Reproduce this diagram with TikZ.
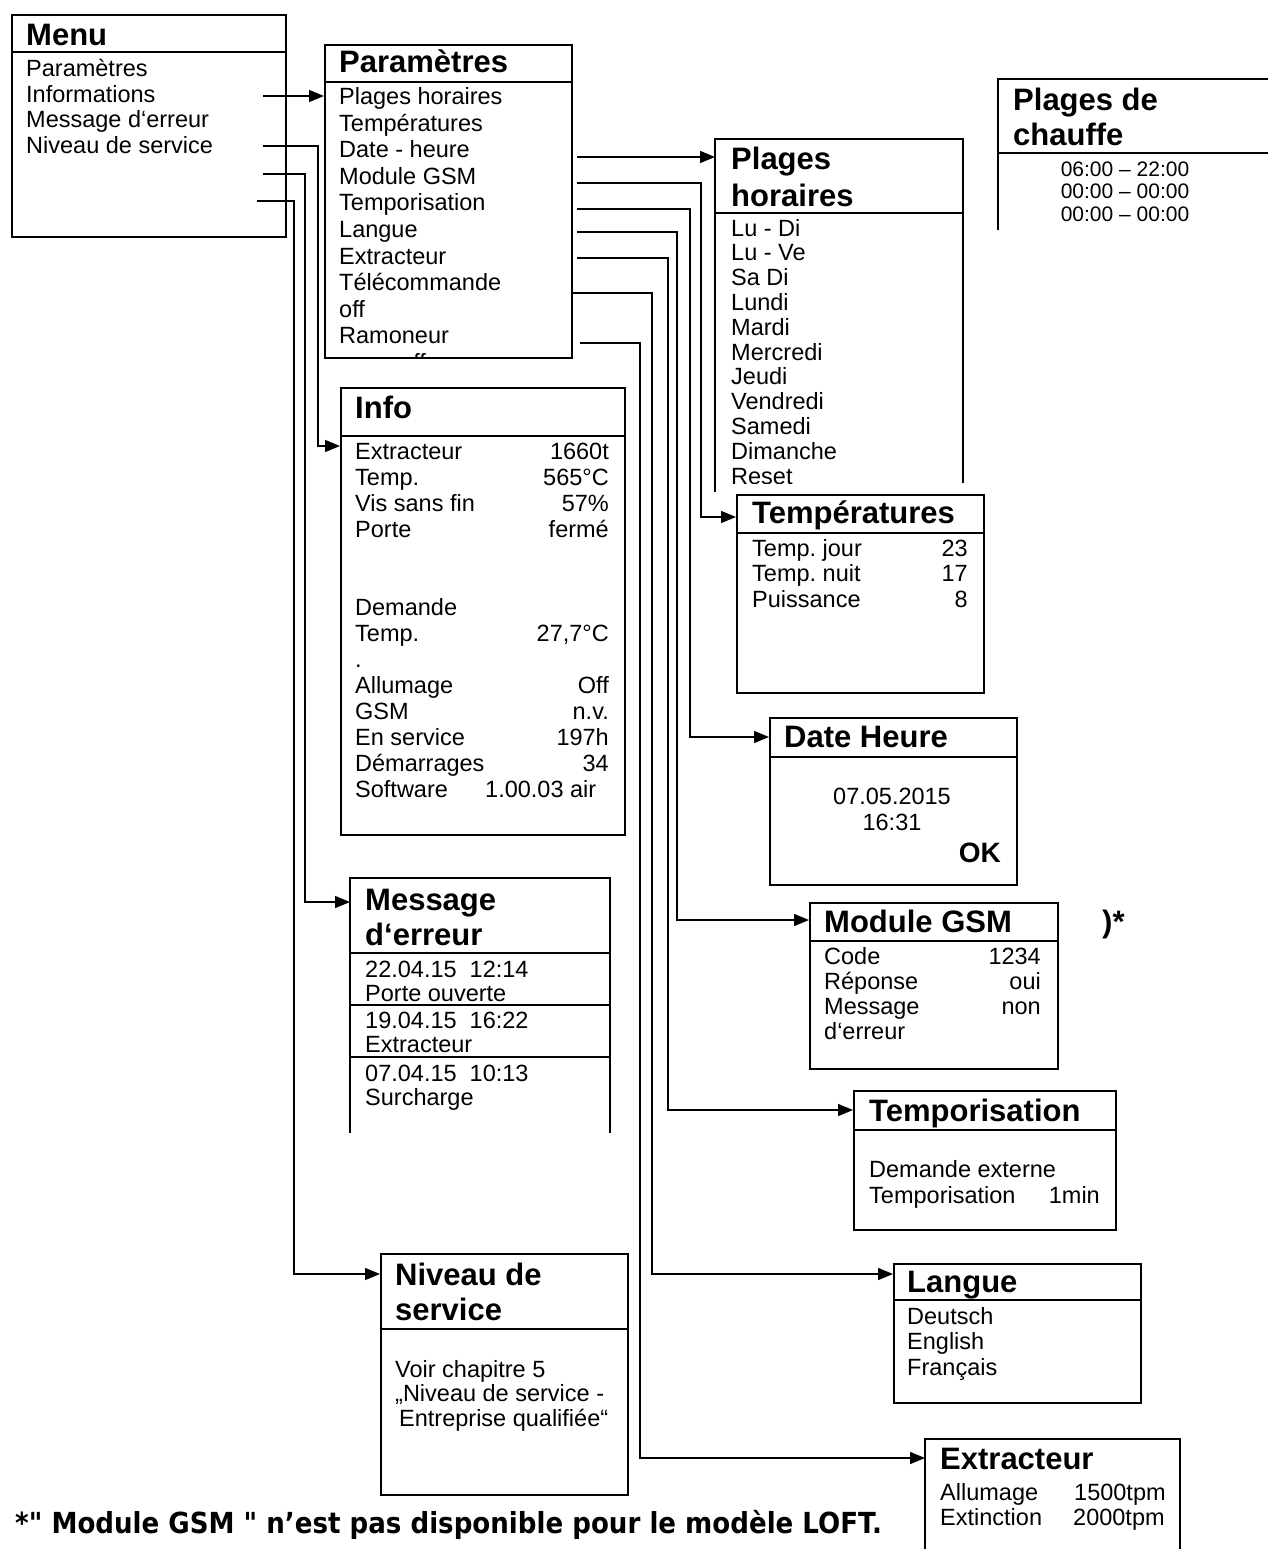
\documentclass[tikz,border=0pt]{standalone}
\usepackage{fontspec}
\usepackage{graphicx}
\setmainfont{Liberation Sans}
\newfontfamily\footfont{DejaVu Sans}
\usetikzlibrary{arrows.meta}
\newcommand\bodyf{\fontsize{23.5}{26}\selectfont}
\newcommand\ttlf{\fontsize{31}{34}\selectfont\bfseries}
\newcommand\timef{\fontsize{21}{22}\selectfont}
\frenchspacing
\begin{document}
\begin{tikzpicture}[x=1pt,y=-1pt,
  frame/.style={draw, line width=2.4pt, inner sep=0pt, anchor=north west},
  ghost/.style={inner sep=0pt, anchor=north west},
  edge/.style={line width=2.4pt},
  sepline/.style={line width=2pt},
  conn/.style={line width=1.5pt, -{Triangle[length=15pt,width=12pt]}},
  txt/.style={inner sep=0pt, anchor=base west, font=\bodyf},
  val/.style={inner sep=0pt, anchor=base east, font=\bodyf},
  ctr/.style={inner sep=0pt, anchor=base, font=\bodyf},
  ttl/.style={inner sep=0pt, anchor=base west, font=\ttlf}]
\useasboundingbox (0,0) rectangle (1268,1549);
\frenchspacing

% ---------- boxes ----------
\node[frame, minimum width=274pt, minimum height=222pt] (menu) at (11,14) {};
\draw[sepline] (11,52) -- (285,52);
\node[frame, minimum width=247pt, minimum height=313pt] (param) at (324,44) {};
\draw[sepline] (324,82) -- (571,82);
\node[ghost, minimum width=248pt, minimum height=344pt] (plh) at (715,139) {};
\draw[edge] (715,492) -- (715,139) -- (963,139) -- (963,483);
\draw[sepline] (715,213) -- (963,213);
\node[ghost, minimum width=270pt, minimum height=151pt] (pdc) at (998,79) {};
\draw[edge] (998,230) -- (998,79) -- (1268,79);
\draw[sepline] (998,153) -- (1268,153);
\node[frame, minimum width=284pt, minimum height=447pt] (info) at (340,387) {};
\draw[sepline] (340,436) -- (624,436);
\node[frame, minimum width=247pt, minimum height=198pt] (temp) at (736,494) {};
\draw[sepline] (736,533) -- (983,533);
\node[frame, minimum width=247pt, minimum height=167pt] (date) at (769,717) {};
\draw[sepline] (769,757) -- (1016,757);
\node[ghost, minimum width=260pt, minimum height=255pt] (msg) at (350,878) {};
\draw[edge] (350,1133) -- (350,878) -- (610,878) -- (610,1133);
\draw[sepline] (350,953) -- (610,953);
\draw[sepline] (350,1005) -- (610,1005);
\draw[sepline] (350,1057) -- (610,1057);
\node[frame, minimum width=248pt, minimum height=166pt] (gsm) at (809,902) {};
\draw[sepline] (809,941) -- (1057,941);
\node[frame, minimum width=262pt, minimum height=139pt] (tempo) at (853,1090) {};
\draw[sepline] (853,1130) -- (1115,1130);
\node[frame, minimum width=247pt, minimum height=241pt] (niv) at (380,1253) {};
\draw[sepline] (380,1329) -- (627,1329);
\node[frame, minimum width=247pt, minimum height=139pt] (lang) at (893,1263) {};
\draw[sepline] (893,1300) -- (1140,1300);
\node[ghost, minimum width=255pt, minimum height=110pt] (extr) at (925,1439) {};
\draw[edge] (925,1549) -- (925,1439) -- (1180,1439) -- (1180,1549);

% ---------- connectors ----------
\coordinate (m1) at (263,96);
\coordinate (m2) at (263,146);  \coordinate (k2) at (318,446);
\coordinate (m3) at (263,174);  \coordinate (k3) at (305,902);
\coordinate (m4) at (257,201);  \coordinate (k4) at (294,1274);
\draw[conn] (m1) -- (param.west |- m1);
\draw[conn] (m2) -| (k2) -- (info.west |- k2);
\draw[conn] (m3) -| (k3) -- (msg.west |- k3);
\draw[conn] (m4) -| (k4) -- (niv.west |- k4);

\coordinate (p1) at (577,157);
\coordinate (p2) at (577,183);  \coordinate (q2) at (701,517);
\coordinate (p3) at (577,209);  \coordinate (q3) at (690,737);
\coordinate (p4) at (577,232);  \coordinate (q4) at (677,920);
\coordinate (p5) at (577,258);  \coordinate (q5) at (668,1110);
\coordinate (p6) at (572,293);  \coordinate (q6) at (652,1274);
\coordinate (p7) at (580,343);  \coordinate (q7) at (640,1458);
\draw[conn] (p1) -- (plh.west |- p1);
\draw[conn] (p2) -| (q2) -- (temp.west |- q2);
\draw[conn] (p3) -| (q3) -- (date.west |- q3);
\draw[conn] (p4) -| (q4) -- (gsm.west |- q4);
\draw[conn] (p5) -| (q5) -- (tempo.west |- q5);
\draw[conn] (p6) -| (q6) -- (lang.west |- q6);
\draw[conn] (p7) -| (q7) -- (extr.west |- q7);

% ---------- Menu ----------
\node[ttl] (tmenu) at (26,46) {Menu};
\foreach \t [count=\i from 0] in {Paramètres,Informations,Message d‘erreur,Niveau de service}
  \node[txt] (mi\i) at (26,77+25.4*\i) {\t};

% ---------- Paramètres ----------
\node[ttl] (tparam) at (339,73) {Paramètres};
\foreach \t [count=\i from 0] in {Plages horaires,Températures,Date - heure,Module GSM,Temporisation,Langue,Extracteur,Télécommande,off,Ramoneur}
  \node[txt] (pi\i) at (339,105+26.5*\i) {\t};
\begin{scope}
  \clip (324,44) rectangle (571,357);
  \node[txt] (pioff) at (400,370) {off};
\end{scope}

% ---------- Plages horaires ----------
\node[ttl] (tplh1) at (731,170) {Plages};
\node[ttl] (tplh2) at (731,206) {horaires};
\begin{scope}
  \clip (700,139) rectangle (963,483);
  \foreach \t [count=\i from 0] in {Lu - Di,Lu - Ve,Sa Di,Lundi,Mardi,Mercredi,Jeudi,Vendredi,Samedi,Dimanche,Reset}
    \node[txt] (hi\i) at (731,236+24.8*\i) {\t};
\end{scope}

% ---------- Plages de chauffe ----------
\node[ttl] (tpdc1) at (1013,111) {Plages de};
\node[ttl] (tpdc2) at (1013,146) {chauffe};
\node[ctr, font=\timef] (pc0) at (1125,177) {06:00 – 22:00};
\node[ctr, font=\timef] (pc1) at (1125,199) {00:00 – 00:00};
\node[ctr, font=\timef] (pc2) at (1125,221) {00:00 – 00:00};

% ---------- Info ----------
\node[ttl] (tinfo) at (355,418) {Info};
\foreach \t/\k in {Extracteur/0,Temp./1,Vis sans fin/2,Porte/3,Demande/6,Temp./7,./8,Allumage/9,GSM/10,En service/11,Démarrages/12,Software/13}
  \node[txt] (il\k) at (355,459+26*\k) {\t};
\foreach \t/\k in {1660t/0,565°C/1,57\%/2,fermé/3,{27,7°C}/7,Off/9,n.v./10,197h/11,34/12}
  \node[val] (iv\k) at (609,459+26*\k) {\t};
\node[txt] (iv13) at (485,797) {1.00.03 air};

% ---------- Températures ----------
\node[ttl] (ttemp) at (752,523) {Températures};
\foreach \t/\v [count=\i from 0] in {Temp. jour/23,Temp. nuit/17,Puissance/8}{
  \node[txt] (tl\i) at (752,556+25.5*\i) {\t};
  \node[val] (tv\i) at (968,556+25.5*\i) {\v};
}

% ---------- Date Heure ----------
\node[ttl] (tdate) at (784,747) {Date Heure};
\node[ctr] (d1) at (892,804) {07.05.2015};
\node[ctr] (d2) at (892,830) {16:31};
\node[inner sep=0pt, anchor=base east, font=\fontsize{28}{30}\selectfont\bfseries] (dok) at (1001,862) {OK};

% ---------- Message d'erreur ----------
\node[ttl] (tmsg1) at (365,910) {Message};
\node[ttl] (tmsg2) at (365,945) {d‘erreur};
\node[txt] (e1) at (365,977) {22.04.15\ \ 12:14};
\node[txt] (e2) at (365,1001) {Porte ouverte};
\node[txt] (e3) at (365,1028) {19.04.15\ \ 16:22};
\node[txt] (e4) at (365,1052) {Extracteur};
\node[txt] (e5) at (365,1081) {07.04.15\ \ 10:13};
\node[txt] (e6) at (365,1105) {Surcharge};

% ---------- Module GSM ----------
\node[ttl] (tgsm) at (824,932) {Module GSM};
\node[ttl] (star) at (1102,932) {)*};
\foreach \t [count=\i from 0] in {Code,Réponse,Message,d‘erreur}
  \node[txt] (gl\i) at (824,964+25.3*\i) {\t};
\foreach \t [count=\i from 0] in {1234,oui,non}
  \node[val] (gv\i) at (1041,964+25.3*\i) {\t};

% ---------- Temporisation ----------
\node[ttl] (ttempo) at (869,1121) {Temporisation};
\node[txt] (to1) at (869,1177) {Demande externe};
\node[txt] (to2) at (869,1203) {Temporisation};
\node[val] (to3) at (1100,1203) {1min};

% ---------- Langue ----------
\node[ttl] (tlang) at (907,1292) {Langue};
\foreach \t [count=\i from 0] in {Deutsch,English,Français}
  \node[txt] (la\i) at (907,1324+25.5*\i) {\t};

% ---------- Niveau de service ----------
\node[ttl] (tniv1) at (395,1285) {Niveau de};
\node[ttl] (tniv2) at (395,1320) {service};
\node[txt] (n1) at (395,1377) {Voir chapitre 5};
\node[txt] (n2) at (395,1401) {„Niveau de service -};
\node[txt] (n3) at (399,1426) {Entreprise qualifiée“};

% ---------- Extracteur ----------
\node[ttl] (textr) at (940,1469) {Extracteur};
\node[txt] (x1) at (940,1500) {Allumage};
\node[txt] (x2) at (940,1525) {Extinction};
\node[txt] (x3) at (1074,1500) {1500tpm};
\node[txt] (x4) at (1073,1525) {2000tpm};

% ---------- footnote ----------
\node[inner sep=0pt, anchor=base west] (foot) at (15,1533)
  {\scalebox{0.9}[1]{\footfont\fontsize{29}{32}\selectfont\bfseries *" Module GSM " n’est pas disponible pour le modèle LOFT.}};
\end{tikzpicture}
\end{document}
